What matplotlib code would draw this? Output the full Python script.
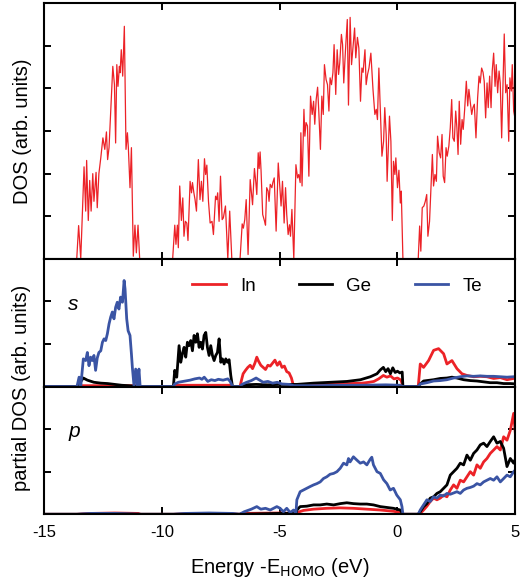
import matplotlib
matplotlib.use("Agg")
import matplotlib.pyplot as plt

plt.rcParams['font.family'] = ['Liberation Sans', 'DejaVu Sans']
plt.rcParams['axes.unicode_minus'] = False

RED = "#EC2227"
BLACK = "#000000"
BLUE = "#3A54A4"

x_ticks = [-15, -10, -5, 0, 5]
series_names = ["In", "Ge", "Te"]

# total DOS (energy eV, DOS arb. units)
dos_total = [
    (-15.0, 0), (-13.61, 0), (-13.53, 0.78), (-13.44, 0), (-13.30, 2.16), (-13.23, 1.12), (-13.19, 2.31),
    (-13.12, 0.9), (-13.06, 1.84), (-13.00, 1.12), (-12.93, 2.0), (-12.88, 1.35), (-12.79, 2.03), (-12.74, 1.2),
    (-12.67, 2.0), (-12.59, 2.37), (-12.50, 2.84), (-12.42, 2.57), (-12.35, 2.98), (-12.30, 2.33), (-12.24, 2.61),
    (-12.17, 3.47), (-12.08, 4.52), (-12.01, 4.09), (-11.96, 2.72), (-11.91, 4.56), (-11.86, 4.05), (-11.80, 4.52),
    (-11.77, 4.37), (-11.72, 4.91), (-11.66, 4.29), (-11.59, 5.46), (-11.52, 2.57), (-11.46, 2.96), (-11.42, 2.61),
    (-11.35, 1.67), (-11.29, 2.61), (-11.21, 0.06), (-11.14, 0.79), (-11.08, 0.14), (-11.01, 0.79), (-10.94, 0),
    (-9.54, 0), (-9.45, 0.79), (-9.40, 0.34), (-9.34, 0.79), (-9.30, 0.26), (-9.24, 1.71), (-9.17, 0.9),
    (-9.11, 1.43), (-9.06, 0.53), (-9.00, 0.88), (-8.94, 0.84), (-8.89, 0.43), (-8.80, 1.82), (-8.74, 1.55),
    (-8.70, 1.79), (-8.64, 1.55), (-8.59, 1.39), (-8.53, 1.12), (-8.45, 2.33), (-8.38, 1.39), (-8.32, 1.82),
    (-8.26, 1.35), (-8.19, 2.35), (-8.14, 1.98), (-8.09, 2.2), (-8.02, 1.35), (-7.95, 0.84), (-7.87, 0.88),
    (-7.81, 0.57), (-7.72, 1.47), (-7.67, 1.39), (-7.63, 1.55), (-7.57, 0.88), (-7.51, 1.94), (-7.44, 0.92),
    (-7.39, 0.96), (-7.30, 1.24), (-7.20, 0), (-7.12, 1.12), (-7.03, 0),
    (-6.68, 0), (-6.59, 0.82), (-6.54, 0.72), (-6.48, 0.92), (-6.42, 1.39), (-6.34, 0.1), (-6.25, 1.86),
    (-6.15, 1.27), (-6.07, 2.12), (-6.01, 1.79), (-5.97, 1.51), (-5.91, 2.49), (-5.87, 2.12), (-5.83, 2.51),
    (-5.79, 2.08), (-5.72, 1.04), (-5.64, 0.88), (-5.60, 0.79), (-5.55, 1.67), (-5.49, 1.59), (-5.45, 1.35),
    (-5.40, 1.75), (-5.33, 1.67), (-5.29, 1.79), (-5.23, 1.9), (-5.15, 0.65), (-5.06, 2.25),
    (-4.99, 1.67), (-4.94, 1.24), (-4.88, 1.82), (-4.81, 0.84), (-4.75, 1.67), (-4.70, 1.04), (-4.64, 0.57),
    (-4.58, 0.8), (-4.54, 0.53), (-4.48, 1.16), (-4.40, 0), (-4.31, 2.21), (-4.24, 1.9), (-4.19, 1.98),
    (-4.13, 1.79), (-4.10, 2.96), (-4.05, 1.71), (-3.97, 3.51), (-3.93, 2.88), (-3.88, 3.2), (-3.82, 3.12),
    (-3.76, 1.94), (-3.69, 3.82), (-3.62, 3.39), (-3.56, 3.7), (-3.51, 3.16), (-3.45, 3.74), (-3.39, 4.03),
    (-3.34, 3.47), (-3.27, 2.57), (-3.21, 3.82), (-3.15, 3.39), (-3.10, 4.56), (-3.03, 4.21), (-2.97, 4.09),
    (-2.91, 3.47), (-2.86, 4.25), (-2.80, 4.09), (-2.74, 4.37), (-2.69, 5.03), (-2.62, 3.86), (-2.56, 4.91),
    (-2.50, 4.33), (-2.45, 4.6), (-2.38, 5.27), (-2.33, 5.03), (-2.28, 4.13), (-2.21, 4.87), (-2.13, 5.62),
    (-2.08, 3.61), (-2.01, 5.67), (-1.95, 4.56), (-1.89, 4.95), (-1.82, 5.42), (-1.77, 4.72), (-1.70, 5.2),
    (-1.64, 4.95), (-1.57, 3.7), (-1.51, 4.48), (-1.46, 4.38), (-1.38, 4.91), (-1.33, 4.09), (-1.27, 4.33),
    (-1.21, 4.48), (-1.13, 4.83), (-1.04, 3.98), (-0.96, 3.39), (-0.90, 3.51), (-0.85, 3.27), (-0.79, 4.48),
    (-0.73, 3.55), (-0.66, 2.41), (-0.59, 2.76), (-0.54, 3.55), (-0.48, 2.92), (-0.44, 1.82), (-0.38, 2.76),
    (-0.34, 3.35), (-0.28, 2.76), (-0.22, 0.9), (-0.17, 2.29), (-0.11, 1.98), (-0.07, 2.37), (0.00, 1.67),
    (0.06, 2.08), (0.12, 1.31), (0.16, 1.59), (0.23, 0),
    (0.88, 0), (0.94, 0.77), (0.99, 0.18), (1.05, 1.2), (1.12, 1.24), (1.18, 1.35), (1.24, 1.51), (1.29, 0.53),
    (1.36, 0.88), (1.42, 1.67), (1.48, 2.45), (1.53, 1.71), (1.59, 1.98), (1.65, 1.82), (1.70, 2.88),
    (1.77, 2.49), (1.83, 2.37), (1.89, 2.92), (1.94, 1.94), (2.00, 1.79), (2.06, 2.61), (2.11, 2.41),
    (2.18, 2.65), (2.24, 3.08), (2.30, 3.74), (2.35, 2.84), (2.41, 2.76), (2.47, 3.47), (2.52, 3.08),
    (2.57, 2.45), (2.62, 3.7), (2.68, 2.69), (2.74, 3.27), (2.79, 3.04), (2.85, 3.51), (2.92, 4.17),
    (2.98, 3.59), (3.03, 3.98), (3.09, 3.67), (3.15, 3.39), (3.20, 3.55), (3.26, 3.63), (3.33, 2.84),
    (3.40, 3.78), (3.46, 4.29), (3.51, 4.13), (3.57, 4.48), (3.63, 4.38), (3.68, 4.17), (3.74, 3.31),
    (3.80, 4.13), (3.85, 3.55), (3.91, 4.29), (3.97, 3.55), (4.02, 4.41), (4.08, 4.83), (4.14, 4.05),
    (4.19, 4.56), (4.25, 3.9), (4.31, 4.41), (4.36, 4.13), (4.42, 2.84), (4.48, 4.17), (4.53, 5.28),
    (4.59, 3.9), (4.65, 4.09), (4.72, 2.76), (4.77, 4.25), (4.83, 3.94), (4.87, 4.56), (4.93, 3.47),
    (4.97, 3.35), (5.01, 4.37), (5.07, 4.64),
]

# s partial DOS
in_s = [
    (-15, 0), (-13.6, 0), (-13.5, 0.02), (-11.0, 0.02), (-10.92, 0), (-9.51, 0), (-9.45, 0.03), (-7.05, 0.03),
    (-7.0, 0), (-6.68, 0), (-6.62, 0.15), (-6.55, 0.3), (-6.45, 0.38), (-6.35, 0.45), (-6.25, 0.5), (-6.15, 0.42),
    (-6.05, 0.55), (-5.97, 0.69), (-5.9, 0.6), (-5.8, 0.5), (-5.7, 0.45), (-5.6, 0.4), (-5.5, 0.5), (-5.4, 0.48),
    (-5.3, 0.55), (-5.2, 0.62), (-5.1, 0.5), (-5.0, 0.58), (-4.9, 0.45), (-4.8, 0.48), (-4.7, 0.35), (-4.6, 0.32),
    (-4.5, 0.2), (-4.43, 0.05), (-4.3, 0.04), (-4.0, 0.05), (-3.5, 0.04), (-3.0, 0.05), (-2.5, 0.06), (-2.0, 0.07),
    (-1.5, 0.08), (-1.2, 0.1), (-1.0, 0.12), (-0.8, 0.18), (-0.6, 0.26), (-0.45, 0.22), (-0.3, 0.25),
    (-0.15, 0.18), (0.0, 0.2), (0.15, 0.15), (0.23, 0), (0.88, 0), (0.966, 0.53), (1.107, 0.45), (1.32, 0.61),
    (1.532, 0.85), (1.744, 0.89), (1.957, 0.77), (2.098, 0.53), (2.31, 0.61), (2.523, 0.42), (2.735, 0.3),
    (2.947, 0.26), (3.23, 0.23), (3.513, 0.24), (3.796, 0.23), (4.08, 0.19), (4.363, 0.21), (4.646, 0.16),
    (4.929, 0.19), (5.212, 0.19),
]
ge_s = [
    (-15, 0), (-13.6, 0), (-13.33, 0.2), (-13.16, 0.15), (-12.88, 0.1), (-12.59, 0.08), (-12.3, 0.07),
    (-12.0, 0.05), (-11.7, 0.03), (-11.4, 0.02), (-11.2, 0.01), (-10.95, 0), (-9.51, 0), (-9.452, 0.38),
    (-9.367, 0.22), (-9.268, 0.96), (-9.197, 0.57), (-9.126, 0.77), (-9.055, 0.92), (-8.985, 0.69),
    (-8.914, 1.04), (-8.843, 0.96), (-8.772, 1.08), (-8.701, 0.84), (-8.631, 1.2), (-8.560, 1.04),
    (-8.489, 1.24), (-8.418, 0.92), (-8.348, 1.04), (-8.277, 0.88), (-8.206, 1.2), (-8.135, 1.27),
    (-8.065, 0.92), (-7.994, 0.73), (-7.923, 0.96), (-7.852, 0.73), (-7.781, 0.61), (-7.711, 0.73),
    (-7.640, 0.8), (-7.569, 1.12), (-7.498, 0.57), (-7.428, 0.65), (-7.357, 0.53), (-7.286, 0.65),
    (-7.215, 0.57), (-7.145, 0.63), (-7.074, 0.26), (-7.003, 0), (-6.68, 0), (-6.5, 0.04), (-6.0, 0.05),
    (-5.5, 0.04), (-5.0, 0.05), (-4.5, 0.05), (-4.27, 0.05), (-3.56, 0.08), (-2.85, 0.1), (-2.14, 0.12),
    (-1.57, 0.16), (-1.15, 0.23), (-0.87, 0.3), (-0.73, 0.39), (-0.6, 0.45), (-0.5, 0.35), (-0.4, 0.42),
    (-0.3, 0.3), (-0.2, 0.44), (-0.1, 0.33), (0.0, 0.36), (0.1, 0.32), (0.2, 0.34), (0.23, 0), (0.88, 0),
    (0.966, 0.06), (1.107, 0.13), (1.249, 0.14), (1.532, 0.16), (1.815, 0.19), (2.098, 0.2), (2.31, 0.22),
    (2.523, 0.2), (2.806, 0.16), (3.089, 0.14), (3.372, 0.13), (3.655, 0.11), (3.938, 0.09), (4.221, 0.09),
    (4.504, 0.07), (4.787, 0.07), (5.07, 0.06),
]
te_s = [
    (-15, 0), (-13.6, 0), (-13.51, 0.22), (-13.44, 0), (-13.33, 0.65), (-13.23, 0.61), (-13.16, 0.8),
    (-13.09, 0.49), (-13.02, 0.69), (-12.95, 0.61), (-12.88, 0.73), (-12.81, 0.38), (-12.74, 0.67),
    (-12.67, 0.8), (-12.59, 0.84), (-12.52, 1.04), (-12.45, 1.12), (-12.38, 1.08), (-12.31, 1.24),
    (-12.24, 1.47), (-12.17, 1.63), (-12.10, 1.75), (-12.03, 1.59), (-11.96, 1.86), (-11.89, 1.98),
    (-11.82, 1.82), (-11.75, 2.1), (-11.67, 1.98), (-11.60, 2.49), (-11.56, 2.29), (-11.49, 1.59),
    (-11.43, 1.31), (-11.35, 1.2), (-11.29, 0.77), (-11.25, 0.45), (-11.18, 0.02), (-11.11, 0.41),
    (-11.04, 0.02), (-10.97, 0.41), (-10.92, 0), (-9.51, 0), (-9.45, 0.06), (-9.3, 0.1), (-9.1, 0.12),
    (-8.9, 0.14), (-8.8, 0.15), (-8.6, 0.18), (-8.4, 0.2), (-8.3, 0.17), (-8.2, 0.22), (-8.05, 0.12),
    (-7.9, 0.16), (-7.75, 0.14), (-7.6, 0.17), (-7.4, 0.15), (-7.2, 0.18), (-7.1, 0.12), (-7.0, 0),
    (-6.68, 0), (-6.6, 0.05), (-6.4, 0.1), (-6.2, 0.14), (-6.0, 0.2), (-5.85, 0.15), (-5.7, 0.1),
    (-5.5, 0.12), (-5.3, 0.08), (-5.1, 0.1), (-4.9, 0.06), (-4.6, 0.05), (-4.4, 0.02), (-3.5, 0.02),
    (-2.5, 0.03), (-1.5, 0.03), (-0.5, 0.04), (0.1, 0.03), (0.23, 0), (0.88, 0), (0.966, 0.06),
    (1.249, 0.09), (1.532, 0.13), (1.815, 0.14), (2.098, 0.16), (2.381, 0.2), (2.664, 0.23), (2.947, 0.25),
    (3.23, 0.24), (3.513, 0.25), (3.796, 0.24), (4.08, 0.24), (4.363, 0.23), (4.646, 0.22), (4.929, 0.23),
    (5.212, 0.24),
]

# p partial DOS
in_p = [
    (-15, 0), (-13.6, 0), (-13.0, 0.02), (-12.0, 0.03), (-11.0, 0.02), (-10.9, 0), (-9.5, 0), (-9.0, 0.01),
    (-7.0, 0.01), (-6.7, 0), (-6.6, 0.02), (-5.0, 0.03), (-4.3, 0.02), (-4.27, 0.04), (-3.99, 0.09),
    (-3.56, 0.12), (-3.0, 0.14), (-2.43, 0.15), (-1.87, 0.14), (-1.3, 0.12), (-0.73, 0.1), (-0.17, 0.07),
    (0.12, 0.04), (0.23, 0), (0.88, 0), (0.966, 0.02), (1.107, 0.1), (1.249, 0.19), (1.39, 0.3),
    (1.532, 0.38), (1.674, 0.34), (1.815, 0.38), (1.957, 0.45), (2.098, 0.41), (2.24, 0.57), (2.381, 0.69),
    (2.523, 0.61), (2.664, 0.8), (2.806, 0.76), (2.947, 0.88), (3.089, 1.0), (3.23, 0.92), (3.372, 1.16),
    (3.513, 1.08), (3.655, 1.23), (3.796, 1.31), (3.938, 1.43), (4.08, 1.51), (4.221, 1.59), (4.363, 1.51),
    (4.504, 1.82), (4.646, 1.74), (4.787, 1.97), (4.929, 2.37), (5.0, 1.9), (5.07, 2.2), (5.18, 2.05),
]
ge_p = [
    (-15, 0), (-13.6, 0), (-12.0, 0.01), (-10.9, 0), (-9.5, 0), (-8.0, 0.01), (-7.0, 0), (-6.7, 0),
    (-5.0, 0.02), (-4.3, 0.02), (-4.27, 0.1), (-4.13, 0.18), (-3.85, 0.19), (-3.56, 0.22), (-3.28, 0.22),
    (-3.0, 0.24), (-2.71, 0.22), (-2.43, 0.25), (-2.15, 0.27), (-1.87, 0.25), (-1.58, 0.24), (-1.3, 0.24),
    (-1.02, 0.22), (-0.73, 0.18), (-0.45, 0.16), (-0.17, 0.14), (0.12, 0.1), (0.23, 0), (0.88, 0),
    (0.966, 0.06), (1.107, 0.18), (1.249, 0.25), (1.39, 0.38), (1.532, 0.41), (1.674, 0.49), (1.815, 0.53),
    (1.957, 0.61), (2.098, 0.69), (2.24, 0.92), (2.381, 1.0), (2.523, 1.08), (2.664, 1.2), (2.806, 1.16),
    (2.947, 1.39), (3.089, 1.27), (3.23, 1.43), (3.372, 1.51), (3.513, 1.63), (3.655, 1.67), (3.796, 1.59),
    (3.938, 1.71), (4.08, 1.82), (4.221, 1.67), (4.363, 1.71), (4.504, 1.55), (4.646, 1.12), (4.787, 1.31),
    (4.929, 1.2), (5.07, 1.39), (5.18, 1.23),
]
te_p = [
    (-15, 0), (-13.6, 0), (-13.0, 0.02), (-12.0, 0.02), (-10.9, 0), (-9.5, 0), (-9.0, 0.02), (-8.0, 0.03),
    (-7.0, 0.02), (-6.7, 0), (-6.5, 0.06), (-6.2, 0.12), (-5.97, 0.18), (-5.8, 0.12), (-5.6, 0.14),
    (-5.4, 0.1), (-5.12, 0.18), (-4.98, 0.14), (-4.84, 0.06), (-4.70, 0.14), (-4.55, 0.04), (-4.41, 0.1),
    (-4.31, 0.02), (-4.27, 0.34), (-4.13, 0.53), (-3.99, 0.57), (-3.85, 0.61), (-3.71, 0.65), (-3.56, 0.69),
    (-3.42, 0.72), (-3.28, 0.76), (-3.14, 0.84), (-3.0, 0.88), (-2.86, 0.94), (-2.71, 0.96), (-2.57, 1.0),
    (-2.43, 1.08), (-2.29, 1.2), (-2.15, 1.16), (-2.08, 1.31), (-2.01, 1.23), (-1.87, 1.35), (-1.72, 1.27),
    (-1.58, 1.2), (-1.44, 1.23), (-1.3, 1.16), (-1.16, 1.29), (-1.09, 1.34), (-1.02, 1.16), (-0.87, 1.0),
    (-0.73, 0.96), (-0.59, 0.81), (-0.45, 0.72), (-0.31, 0.57), (-0.17, 0.61), (-0.03, 0.45), (0.12, 0.34),
    (0.19, 0.18), (0.23, 0), (0.88, 0), (0.966, 0.1), (1.107, 0.22), (1.249, 0.34), (1.39, 0.3),
    (1.532, 0.41), (1.674, 0.38), (1.815, 0.45), (1.957, 0.43), (2.098, 0.49), (2.24, 0.47), (2.381, 0.5),
    (2.523, 0.53), (2.664, 0.49), (2.806, 0.57), (2.947, 0.61), (3.089, 0.63), (3.23, 0.66), (3.372, 0.72),
    (3.513, 0.69), (3.655, 0.76), (3.796, 0.8), (3.938, 0.84), (4.08, 0.8), (4.221, 0.88), (4.363, 0.76),
    (4.504, 0.84), (4.646, 0.92), (4.787, 0.88), (4.929, 1.0), (5.07, 1.08), (5.18, 1.12),
]


def xy(pairs):
    return [p[0] for p in pairs], [p[1] for p in pairs]


fig = plt.figure(figsize=(5.28, 5.84), dpi=100)
gs = fig.add_gridspec(3, 1, height_ratios=[6, 3, 3], left=0.0833, right=0.976,
                      top=0.9943, bottom=0.1194, hspace=0)
ax1 = fig.add_subplot(gs[0])
ax2 = fig.add_subplot(gs[1], sharex=ax1)
ax3 = fig.add_subplot(gs[2], sharex=ax1)

x, y = xy(dos_total)
ax1.plot(x, y, color=RED, lw=0.9)
ax1.set_ylim(0, 6)
ax1.set_yticks([1, 2, 3, 4, 5])

colors = [RED, BLACK, BLUE]
for ax, data in ((ax2, [in_s, ge_s, te_s]), (ax3, [in_p, ge_p, te_p])):
    for name, d, c in zip(series_names, data, colors):
        x, y = xy(d)
        ax.plot(x, y, color=c, lw=2.0, label=name)
    ax.set_ylim(0, 3)
    ax.set_yticks([1, 2])

for ax in (ax1, ax2, ax3):
    ax.set_xlim(-15, 5)
    ax.set_xticks(x_ticks)
    ax.tick_params(direction='in', length=5, width=1.4, top=True, right=True,
                   labelleft=False, labelsize=12, pad=8)
    for s in ax.spines.values():
        s.set_linewidth(1.5)
    if ax is not ax3:
        ax.tick_params(labelbottom=False)

ax3.set_xticklabels([str(t) for t in x_ticks])

leg = ax2.legend(loc='center left', bbox_to_anchor=(0.314, 0.787), ncol=3, frameon=False,
                 fontsize=13.5, handlelength=1.8, handletextpad=0.75, columnspacing=2.3,
                 borderpad=0, borderaxespad=0)

ax2.text(0.051, 0.60, "s", transform=ax2.transAxes, fontsize=15, style='italic')
ax3.text(0.051, 0.605, "p", transform=ax3.transAxes, fontsize=15, style='italic')

fig.text(23 / 528, 1 - 131 / 584, "DOS (arb. units)", rotation=90, ha='center', va='center', fontsize=14.5)
fig.text(22 / 528, 1 - 387.5 / 584, "partial DOS (arb. units)", rotation=90, ha='center', va='center',
         fontsize=14.5)
fig.text(280 / 528, 1 - 573.3 / 584, "Energy -E$_{\\mathrm{HOMO}}$ (eV)", ha='center', va='baseline',
         fontsize=14.5)

fig.savefig("out.png", dpi=100)
